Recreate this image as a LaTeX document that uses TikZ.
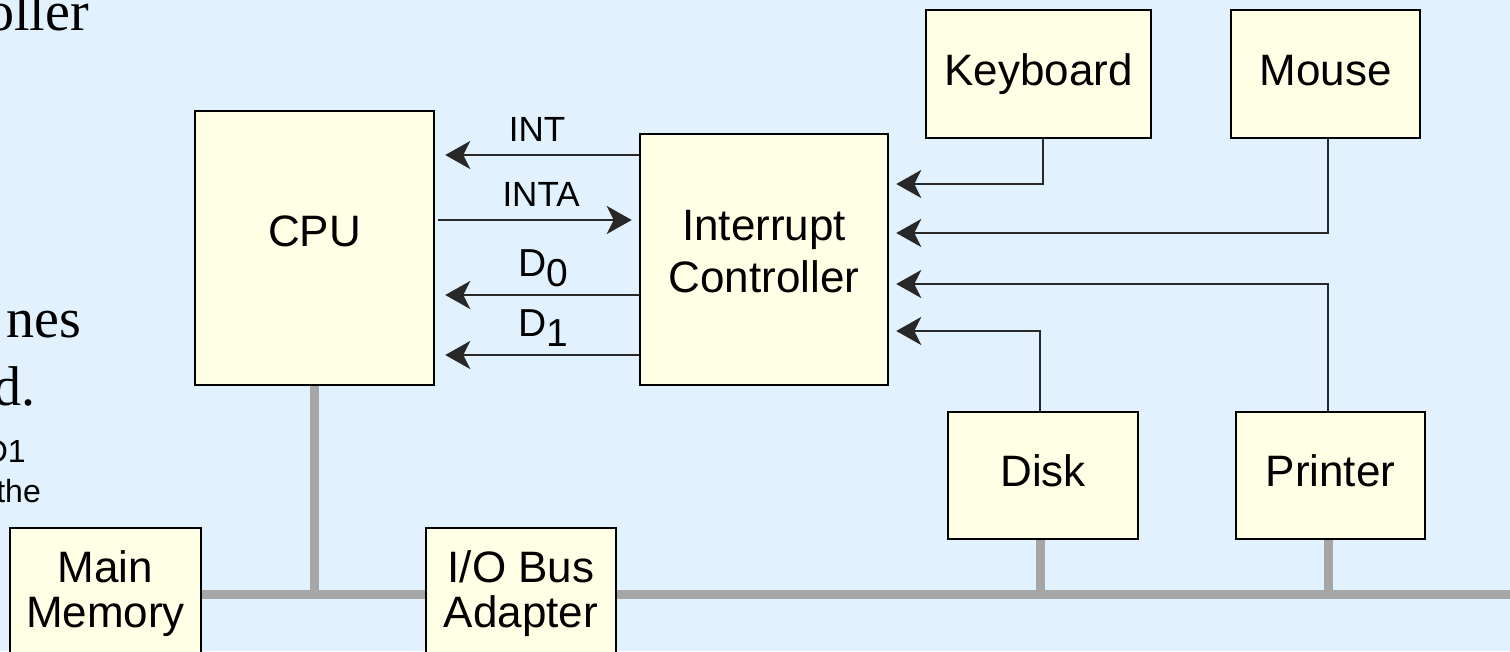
\documentclass[tikz,border=0pt]{standalone}
\usepackage{fontspec}
\setmainfont{Liberation Sans}
\newfontfamily\slideserif{Liberation Serif}
\usetikzlibrary{arrows.meta}
\definecolor{slidebg}{RGB}{225,242,254}
\definecolor{unitfill}{RGB}{255,255,229}
\definecolor{busgray}{RGB}{166,166,166}
\definecolor{wiregray}{RGB}{40,40,40}
\newcommand{\lowidx}[1]{\raisebox{-10pt}{#1}}

\begin{document}
\begin{tikzpicture}[x=1pt,y=-1pt,>={Stealth[length=25pt,width=28pt,inset=7pt]}]
	\tikzstyle{unit}=[rectangle,draw=black,line width=2.5pt,fill=unitfill,inner sep=0pt,align=center,font=\fontsize{44}{52}\selectfont]
	\tikzstyle{oneline}=[text height=31.5pt,text depth=9pt]
	\tikzstyle{wire}=[->,draw=wiregray,line width=2.5pt]
	\tikzstyle{bus}=[draw=busgray,line width=9pt]
	\tikzstyle{signal}=[inner sep=0pt,font=\fontsize{35}{40}\selectfont]
	\tikzstyle{dsignal}=[inner sep=0pt,font=\fontsize{39}{42}\selectfont]
	\tikzstyle{slidetext}=[inner sep=0pt,anchor=base east]
	\fill[slidebg] (0,0) rectangle (1510,651);
	\useasboundingbox (0,0) rectangle (1510,651);
	% cut off text of the slide
	\node[slidetext,font=\slideserif\fontsize{56}{60}\selectfont] (txt-oller) at (89,30) {oller};
	\node[slidetext,font=\slideserif\fontsize{56}{60}\selectfont] (txt-nes) at (81,337) {nes};
	\node[slidetext,font=\slideserif\fontsize{56}{60}\selectfont] (txt-d) at (36,405) {d.};
	\node[slidetext,font=\fontsize{32}{36}\selectfont] (txt-D1) at (26,462) {D1};
	\node[slidetext,font=\fontsize{32}{36}\selectfont] (txt-the) at (41,502) {the};
	% units
	\node[unit,oneline,text depth=34pt,minimum width=239pt,minimum height=274pt] (cpu) at (314.5,248) {CPU};
	\node[unit,text height=65pt,text depth=0pt,minimum width=248pt,minimum height=251pt] (intctl) at (764,259.5) {Interrupt\\Controller};
	\node[unit,oneline,minimum width=225pt,minimum height=128pt] (keyboard) at (1038.5,74) {Keyboard};
	\node[unit,oneline,minimum width=189pt,minimum height=128pt] (mouse) at (1325.5,74) {Mouse};
	\node[unit,oneline,minimum width=190pt,minimum height=127pt] (disk) at (1043,475.5) {Disk};
	\node[unit,oneline,minimum width=189pt,minimum height=127pt] (printer) at (1330.5,475.5) {Printer};
	\node[unit,font=\fontsize{44}{45}\selectfont,minimum width=191pt,minimum height=132pt] (mainmem) at (105.5,594) {Main\\Memory};
	\node[unit,font=\fontsize{44}{45}\selectfont,minimum width=190pt,minimum height=132pt] (iobus) at (521,594) {I/O Bus\\Adapter};
	% signals between CPU and controller
	\draw[wire,shorten >=10pt] ([yshift=104.5pt]intctl.west) coordinate (int-out) -- (cpu.east |- int-out) node[signal,midway,above=12pt] {INT};
	\draw[wire,shorten <=3pt,shorten >=7pt] ([yshift=28pt]cpu.east) coordinate (inta-out) -- (intctl.west |- inta-out) node[signal,pos=0.52,above=12pt] {INTA};
	\draw[wire,shorten >=10pt] ([yshift=-35.5pt]intctl.west) coordinate (d0-out) -- (cpu.east |- d0-out) node[dsignal,pos=0.47,above=7pt] {D\lowidx{0}};
	\draw[wire,shorten >=10pt] ([yshift=-95.5pt]intctl.west) coordinate (d1-out) -- (cpu.east |- d1-out) node[dsignal,pos=0.47,above=7pt] {D\lowidx{1}};
	% interrupt lines of the devices
	\draw[wire,shorten >=7pt] ([xshift=4.5pt]keyboard.south) |- ([yshift=75.5pt]intctl.east);
	\draw[wire,shorten >=7pt] ([xshift=2.5pt]mouse.south) |- ([yshift=26.5pt]intctl.east);
	\draw[wire,shorten >=7pt] ([xshift=-2.5pt]printer.north) |- ([yshift=-24.5pt]intctl.east);
	\draw[wire,shorten >=7pt] ([xshift=-3pt]disk.north) |- ([yshift=-71.5pt]intctl.east);
	% system bus and I/O bus
	\coordinate (bus-end) at (1515,595);
	\draw[bus] (mainmem.east) -- (iobus.west);
	\draw[bus] (cpu.south) -- (cpu.south |- mainmem.east);
	\draw[bus] (iobus.east) -- (iobus.east -| bus-end);
	\draw[bus] ([xshift=-3pt]disk.south) -- ([xshift=-3pt]disk.south |- bus-end);
	\draw[bus] ([xshift=-2.5pt]printer.south) -- ([xshift=-2.5pt]printer.south |- bus-end);
\end{tikzpicture}
\end{document}
